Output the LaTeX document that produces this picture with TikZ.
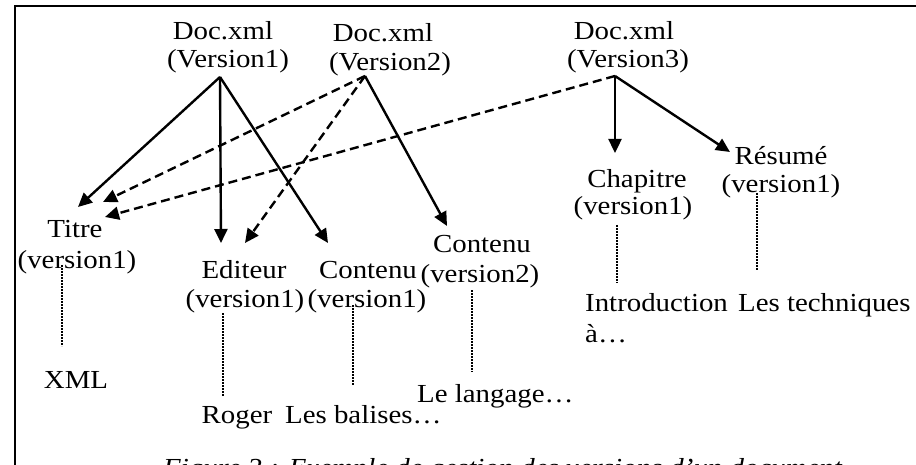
\documentclass[tikz,border=0pt]{standalone}
\usepackage{fontspec}
\setmainfont[FakeStretch=1.11]{Liberation Serif}
\usetikzlibrary{arrows.meta}
\begin{document}
\begin{tikzpicture}[x=1pt,y=-1pt,
  every node/.style={inner sep=0pt, font=\fontsize{26}{29}\selectfont},
  lbl/.style={anchor=base},
  lblw/.style={anchor=base west},
  arr/.style={line width=2.4pt, -{Triangle[length=14pt,width=13pt]}},
  darr/.style={arr, dash pattern=on 9pt off 5pt},
  dotline/.style={line width=2.6pt, dash pattern=on 1.8pt off 1.2pt}]
\useasboundingbox (0,0) rectangle (916,465);
% frame
\draw[line width=2.2pt] (15,480) -- (15,6) -- (930,6);
% top documents
\node[lbl] (doc1a) at (223,40) {Doc.xml};
\node[lbl] (doc1b) at (228,68) {(Version1)};
\node[lbl] (doc2a) at (383,42) {Doc.xml};
\node[lbl] (doc2b) at (390,71) {(Version2)};
\node[lbl] (doc3a) at (624,40) {Doc.xml};
\node[lbl] (doc3b) at (628,68) {(Version3)};
% elements
\node[lbl] (titrea) at (75,238) {Titre};
\node[lbl] (titreb) at (77,269) {(version1)};
\node[lbl] (edita) at (244,279) {Editeur};
\node[lbl] (editb) at (245,308) {(version1)};
\node[lbl] (conta) at (368,279) {Contenu};
\node[lbl] (contb) at (367,308) {(version1)};
\node[lbl] (contc) at (482,253) {Contenu};
\node[lbl] (contd) at (480,283) {(version2)};
\node[lbl] (chapa) at (637,188) {Chapitre};
\node[lbl] (chapb) at (633,215) {(version1)};
\node[lbl] (resa) at (781,165) {Résumé};
\node[lbl] (resb) at (781,193) {(version1)};
% leaves
\node[lbl] (xml) at (76,388) {XML};
\node[lbl] (roger) at (237,423) {Roger};
\node[lblw] (balises) at (285,423) {Les balises…};
\node[lblw] (langage) at (417,402) {Le langage…};
\node[lblw] (intro) at (585,312) {Introduction};
\node[lblw] (introb) at (585,342) {à…};
\node[lblw] (tech) at (738,312) {Les techniques};
% caption (cut off by the page, as in the source)
\node[lblw, font=\fontsize{26}{29}\selectfont\itshape] (caption) at (163,476) {Figure 3 : Exemple de gestion des versions d'un document};
% connector end points
\coordinate (o1) at (220,77);
\coordinate (o2) at (365,76);
\coordinate (o3) at (615,76);
\coordinate (tTitre1) at (78,207);
\coordinate (tTitre2) at (103,202);
\coordinate (tTitre3) at (105,217);
\coordinate (tEdit1) at (221,243);
\coordinate (tEdit2) at (245,243);
\coordinate (tCont1) at (328,243);
\coordinate (tCont2) at (447,226);
\coordinate (tChap) at (615,153);
\coordinate (tRes) at (730,152);
% arrows
\draw[arr] (o1) -- (tTitre1);
\draw[arr] (o1) -- (tEdit1);
\draw[arr] (o1) -- (tCont1);
\draw[darr] (o2) -- (tTitre2);
\draw[darr] (o2) -- (tEdit2);
\draw[arr] (o2) -- (tCont2);
\draw[darr] (o3) -- (tTitre3);
\draw[arr] (o3) -- (tChap);
\draw[arr] (o3) -- (tRes);
% dotted value links
\draw[dotline] (62,265) -- (62,346);
\draw[dotline] (223,313) -- (223,396);
\draw[dotline] (353,305) -- (353,385);
\draw[dotline] (472,290) -- (472,372);
\draw[dotline] (617,225) -- (617,283);
\draw[dotline] (757,193) -- (757,270);
\end{tikzpicture}
\end{document}
